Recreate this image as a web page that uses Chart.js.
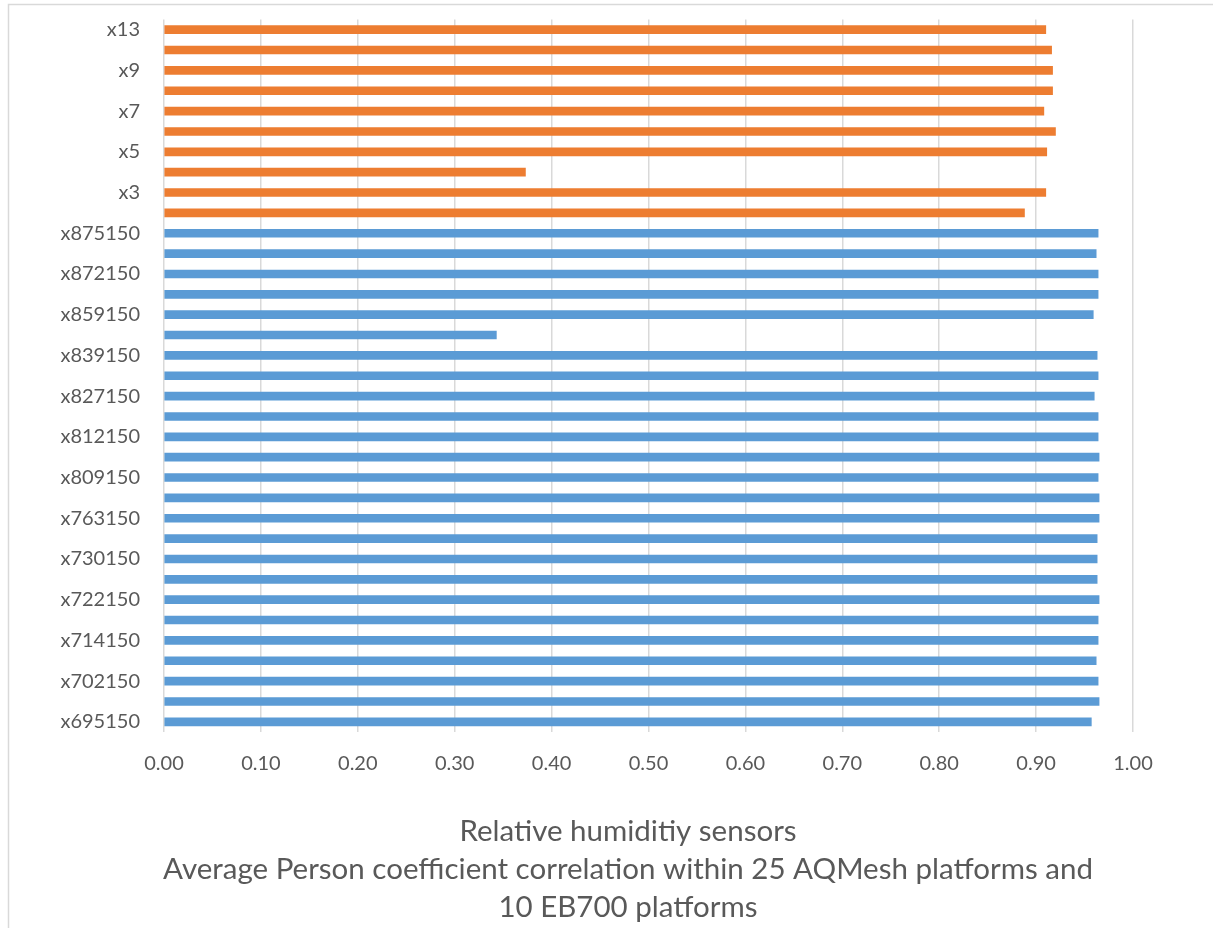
<!DOCTYPE html>
<html>
<head>
<meta charset="utf-8">
<script src="https://cdn.jsdelivr.net/npm/chart.js@4/dist/chart.umd.min.js"></script>
<style>
  html, body { margin: 0; padding: 0; background: #ffffff; }
  #wrap { width: 1213px; height: 928px; position: relative; }
</style>
</head>
<body>
<div id="wrap"><canvas id="c" width="1213" height="928"></canvas></div>
<script>
// Categories, top to bottom (only every other label is shown in the reference)
const categories = [
  'x13','x11','x9','x8','x7','x6','x5','x4','x3','x2',
  'x875150','x873150','x872150','x867150','x859150','x846150','x839150','x836150',
  'x827150','x816150','x812150','x810150','x809150','x776150','x763150','x742150',
  'x730150','x726150','x722150','x719150','x714150','x709150','x702150','x697150','x695150'
];
// EB700 platforms (orange), top to bottom
const eb700Values = [0.910, 0.916, 0.917, 0.917, 0.908, 0.920, 0.911, 0.373, 0.910, 0.888];
// AQMesh platforms (blue), top to bottom
const aqmeshValues = [
  0.964, 0.962, 0.964, 0.964, 0.959, 0.343, 0.963, 0.964, 0.960, 0.964,
  0.964, 0.965, 0.964, 0.965, 0.965, 0.963, 0.963, 0.963, 0.965, 0.964,
  0.964, 0.962, 0.964, 0.965, 0.957
];
const xTicks = [0, 0.1, 0.2, 0.3, 0.4, 0.5, 0.6, 0.7, 0.8, 0.9, 1.0];
const titleLines = [
  'Relative humiditiy sensors',
  'Average Person coefficient correlation within 25 AQMesh platforms and',
  '10 EB700 platforms'
];

const nEB = eb700Values.length;
const ebData = categories.map((_, i) => i < nEB ? eb700Values[i] : null);
const aqData = categories.map((_, i) => i >= nEB ? aqmeshValues[i - nEB] : null);

const frame = {
  id: 'frame',
  afterLayout(chart) {
    // the original title is centred on a wider chart frame than the visible area
    if (chart.titleBlock) {
      chart.titleBlock.left = 43;
      chart.titleBlock.right = 1213;
    }
  },
  beforeDraw(chart) {
    const ctx = chart.ctx;
    ctx.save();
    ctx.fillStyle = '#ffffff';
    ctx.fillRect(0, 0, chart.width, chart.height);
    ctx.strokeStyle = '#d9d9d9';
    ctx.lineWidth = 1.5;
    ctx.strokeRect(8.5, 4.5, chart.width + 10, chart.height + 10);
    ctx.restore();
  }
};

const FONT = 'Lato, "Open Sans", sans-serif';

new Chart(document.getElementById('c'), {
  type: 'bar',
  data: {
    labels: categories,
    datasets: [
      { label: 'EB700', data: ebData, backgroundColor: '#ED7D31', barThickness: 8 },
      { label: 'AQMesh', data: aqData, backgroundColor: '#5B9BD5', barThickness: 8 }
    ]
  },
  options: {
    indexAxis: 'y',
    responsive: false,
    animation: false,
    grouped: false,
    layout: { padding: { top: 19.5, right: 80, bottom: 2, left: 0 } },
    plugins: {
      legend: { display: false },
      tooltip: { enabled: false },
      title: {
        display: true,
        position: 'bottom',
        text: titleLines,
        color: '#595959',
        font: { family: FONT, size: 29.5, weight: 'normal', lineHeight: 38 / 29.5 },
        padding: { top: 0, bottom: 0 }
      }
    },
    scales: {
      x: {
        type: 'linear',
        min: 0,
        max: 1,
        afterBuildTicks(scale) { scale.ticks = xTicks.map(v => ({ value: v })); },
        afterFit(scale) { scale.height = 80; },
        ticks: {
          color: '#595959',
          font: { family: FONT, size: 20 },
          padding: 20,
          maxRotation: 0,
          callback: (v) => Number(v).toFixed(2)
        },
        grid: { color: '#d9d9d9', lineWidth: 1.5, drawTicks: false },
        border: { display: false }
      },
      y: {
        type: 'category',
        afterFit(scale) { scale.width = 164; scale.paddingTop = 0; scale.paddingBottom = 0; },
        ticks: {
          color: '#595959',
          font: { family: FONT, size: 20 },
          padding: 24,
          autoSkip: false,
          callback: function (v, i) { return i % 2 === 0 ? this.getLabelForValue(v) : ''; }
        },
        grid: { display: false, drawTicks: false },
        border: { display: false }
      }
    }
  },
  plugins: [frame]
});
</script>
</body>
</html>
